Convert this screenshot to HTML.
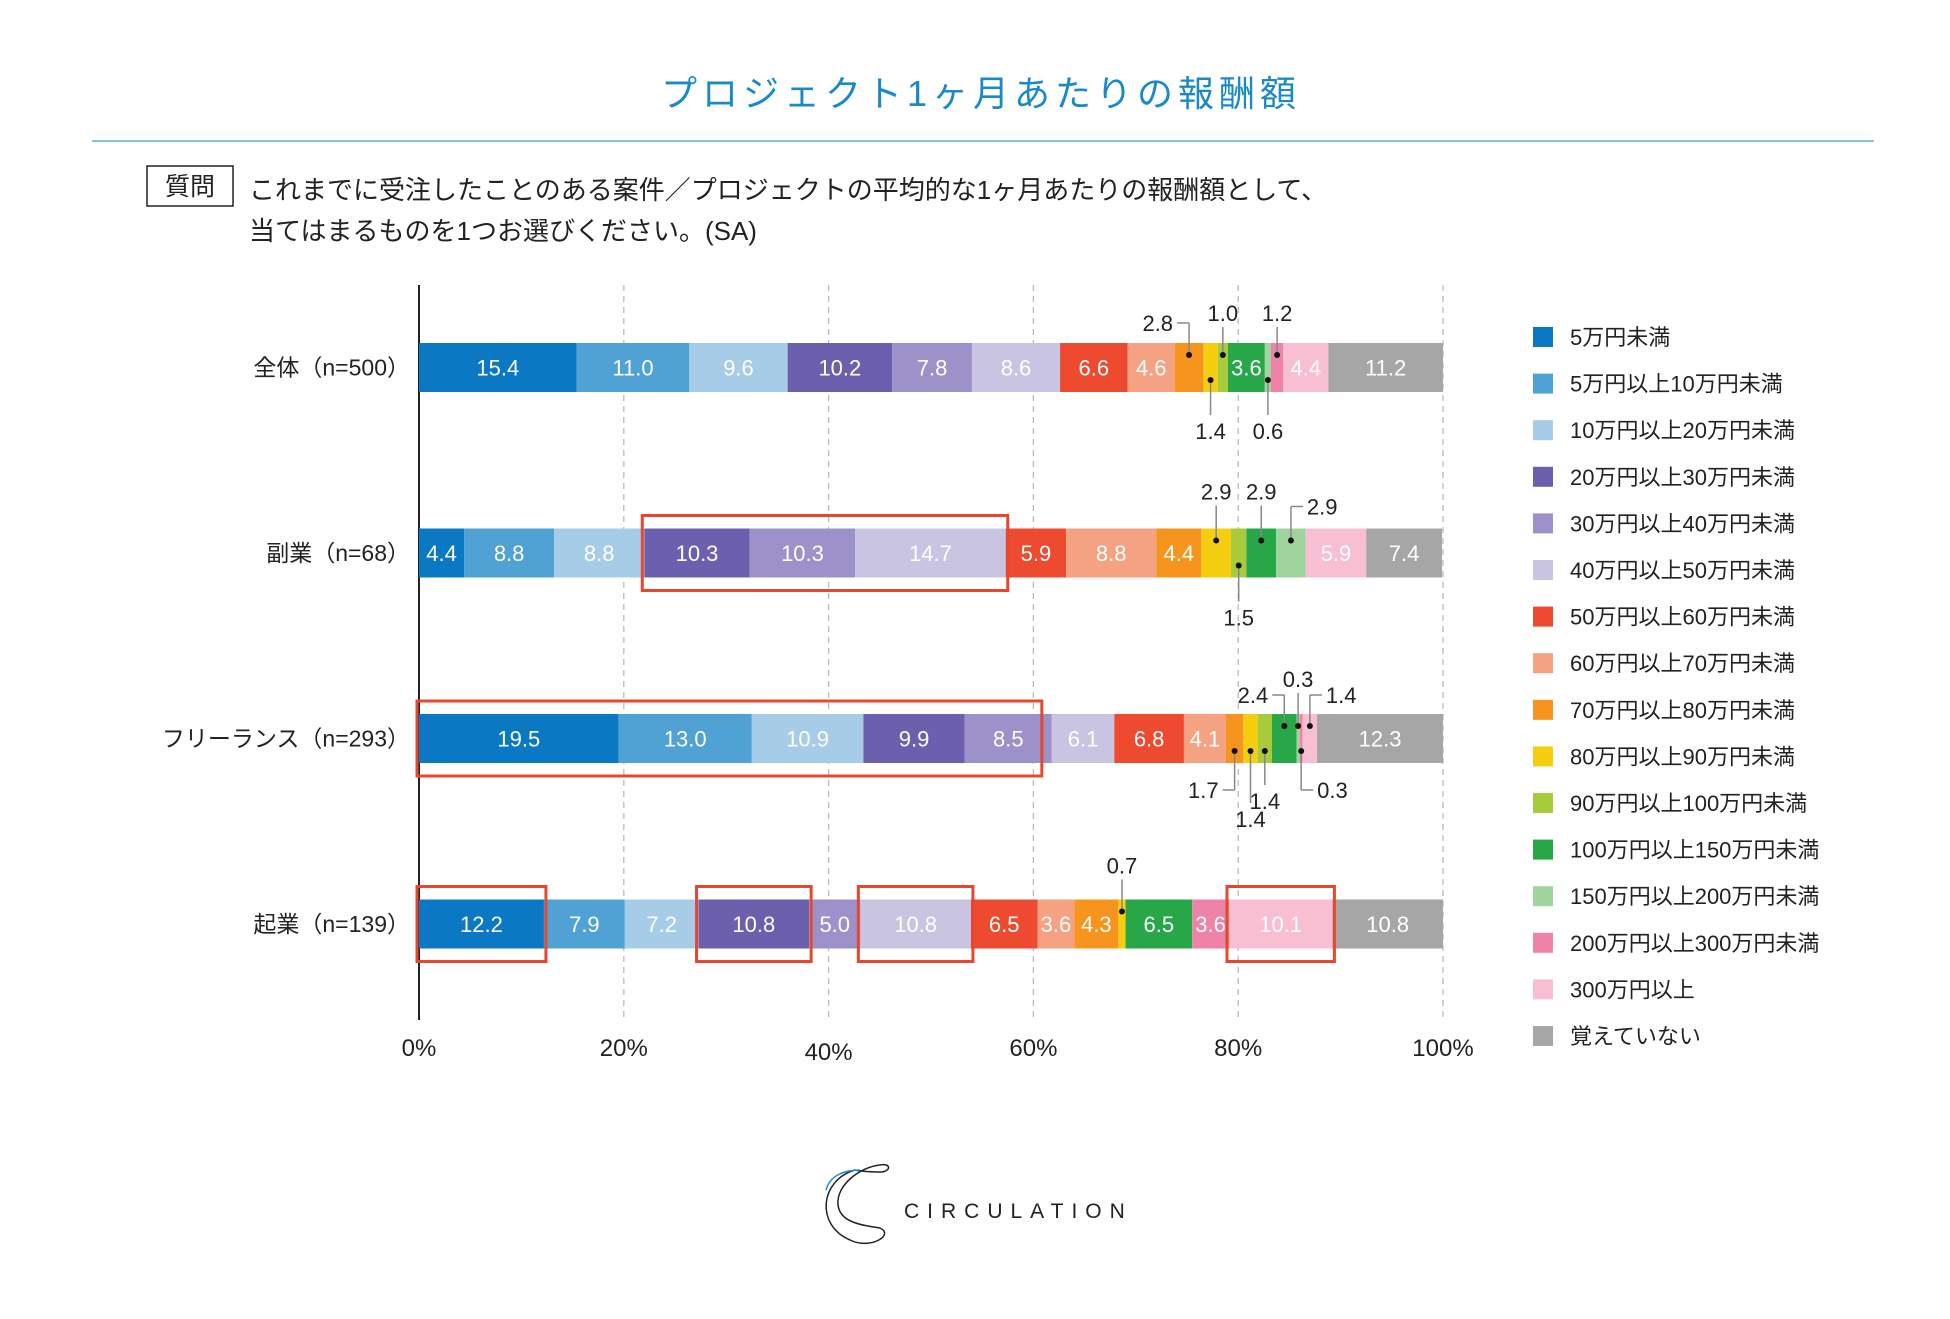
<!DOCTYPE html>
<html><head><meta charset="utf-8">
<style>
body{margin:0;background:#fff;}
svg text{font-family:"Liberation Sans","Noto Sans CJK JP",sans-serif;}
</style></head>
<body>
<svg id="chart" width="1950" height="1314" xmlns="http://www.w3.org/2000/svg">
<text x="981" y="106" text-anchor="middle" font-size="36" fill="#1a8ac6" letter-spacing="5">プロジェクト1ヶ月あたりの報酬額</text>
<line x1="92" y1="141" x2="1874" y2="141" stroke="#5bb0d8" stroke-width="1.5"/>
<rect x="147" y="166" width="86" height="40" fill="none" stroke="#222" stroke-width="1.5"/>
<text x="190" y="195" text-anchor="middle" font-size="25" fill="#222">質問</text>
<text x="249" y="199" font-size="26" fill="#222">これまでに受注したことのある案件／プロジェクトの平均的な1ヶ月あたりの報酬額として、</text>
<text x="249" y="240" font-size="26" fill="#222">当てはまるものを1つお選びください。(SA)</text>
<g id="plot"></g>
<g id="legend"></g>
<g>
<path d="M855 1170 C 820 1180, 815 1225, 850 1240 C 870 1250, 895 1235, 880 1228 C 860 1225, 840 1222, 838 1205 C 836 1185, 860 1167, 880 1165 C 890 1163, 892 1170, 882 1172 C 870 1172, 860 1171, 855 1170" fill="none" stroke="#222" stroke-width="1.5"/>
<path d="M826 1190 C 830 1175, 845 1170, 860 1170" fill="none" stroke="#1a8ac6" stroke-width="1.5"/>
<text x="904" y="1218" font-size="21" fill="#222" letter-spacing="8">CIRCULATION</text>
</g>
</svg>
<script>
const categories = ["全体（n=500）","副業（n=68）","フリーランス（n=293）","起業（n=139）"];
const seriesNames = ["5万円未満","5万円以上10万円未満","10万円以上20万円未満","20万円以上30万円未満","30万円以上40万円未満","40万円以上50万円未満","50万円以上60万円未満","60万円以上70万円未満","70万円以上80万円未満","80万円以上90万円未満","90万円以上100万円未満","100万円以上150万円未満","150万円以上200万円未満","200万円以上300万円未満","300万円以上","覚えていない"];
const row0 = [15.4,11.0,9.6,10.2,7.8,8.6,6.6,4.6,2.8,1.4,1.0,3.6,0.6,1.2,4.4,11.2];
const row1 = [4.4,8.8,8.8,10.3,10.3,14.7,5.9,8.8,4.4,2.9,1.5,2.9,2.9,0,5.9,7.4];
const row2 = [19.5,13.0,10.9,9.9,8.5,6.1,6.8,4.1,1.7,1.4,1.4,2.4,0.3,0.3,1.4,12.3];
const row3 = [12.2,7.9,7.2,10.8,5.0,10.8,6.5,3.6,4.3,0.7,0,6.5,0,3.6,10.1,10.8];
const values = [row0,row1,row2,row3];
const ticks = [0,20,40,60,80,100];
const callouts = [[0,8,'u','l',20],[0,10,'u','c',30],[0,13,'u','c',30],[0,9,'d','c',37],[0,12,'d','c',37],
 [1,9,'u','c',37],[1,11,'u','c',37],[1,12,'u','r',22],[1,10,'d','c',38],
 [2,11,'u','l',19],[2,12,'u','c',35],[2,14,'u','r',19],[2,8,'d','l',27],[2,9,'d','c',54],[2,10,'d','c',36],[2,13,'d','r',27],
 [3,9,'u','c',34]];
// highlights: row, first seg, last seg, right trim px
const highlights = [[1,3,5,0],[2,0,4,12],[3,0,0,0],[3,3,3,0],[3,5,5,0],[3,14,14,0]];
const colors=["#0a78c2","#4fa2d3","#a7cce8","#6c5fad","#9d91c9","#c9c4e2","#ee4a2f","#f5a283","#f7941e","#f5cf0f","#a7cb3b","#27a748","#9fd49f","#ee83a7","#f7bfd1","#a6a6a6"];
const NS="http://www.w3.org/2000/svg";
const X0=419, W=1024, BH=49;
const xs=v=>X0+v/100*W;
const ys=i=>343+i*185.5;
const plot=document.getElementById('plot');
function mk(tag,attrs,parent){const e=document.createElementNS(NS,tag);for(const k in attrs)e.setAttribute(k,attrs[k]);(parent||plot).appendChild(e);return e;}
ticks.forEach(t=>{
  if(t>0){const l=mk('line',{x1:xs(t),x2:xs(t),y1:285,y2:1020,stroke:'#bbb','stroke-width':1.3,'stroke-dasharray':'6,5'});
  
  }
  const tx=mk('text',{x:xs(t),y:t==40?1060:1056,'text-anchor':'middle','font-size':24,fill:'#222'});tx.textContent=t+'%';
  
  
});
const ax=mk('line',{x1:X0,x2:X0,y1:285,y2:1020,stroke:'#222','stroke-width':2});


const starts=[];
values.forEach((row,i)=>{
  const y=ys(i);let c=0;starts.push([]);
  const lb=mk('text',{x:410,y:y+BH/2+8,'text-anchor':'end','font-size':23,fill:'#222'});lb.textContent=categories[i];
  
  
  const callSet=callouts.filter(q=>q[0]===i).map(q=>q[1]);
  row.forEach((v,j)=>{
    starts[i].push(c);
    if(v>0){
      const r=mk('rect',{x:xs(c),y:y,width:xs(c+v)-xs(c),height:BH,fill:colors[j]});
      
      
      if(v>=3.5&&callSet.indexOf(j)<0){
        const t=mk('text',{x:(xs(c)+xs(c+v))/2,y:y+BH/2+8,'text-anchor':'middle','font-size':22,fill:'#fff'});t.textContent=v.toFixed(1);
        
        
      }
    }
    c+=v;
  });
});
highlights.forEach(h=>{
  const a=starts[h[0]][h[1]], b=starts[h[0]][h[2]]+values[h[0]][h[2]], y=ys(h[0]);
  const r=mk('rect',{x:xs(a)-2,y:y-13,width:xs(b)-xs(a)+4-h[3],height:BH+26,fill:'none',stroke:'#e8472f','stroke-width':3});
  
  
});
callouts.forEach(q=>{
  const [i,j,dir,kind,d]=q;const v=values[i][j];
  const cx=(xs(starts[i][j])+xs(starts[i][j]+v))/2, y=ys(i);
  const dy=dir==='u'?y+12:y+BH-12;
  const ey=dir==='u'?y-d+(kind==='c'?14:0):y+BH+d-(kind==='c'?14:0);
  const g=mk('g',{});
  
  
  mk('line',{x1:cx,x2:cx,y1:dy,y2:ey,stroke:'#888','stroke-width':1.5},g);
  let tx,anchor;
  if(kind==='c'){tx=cx;anchor='middle';}
  else{const ex=kind==='l'?cx-12:cx+12;mk('line',{x1:cx,x2:ex,y1:ey,y2:ey,stroke:'#888','stroke-width':1.5},g);tx=kind==='l'?ex-4:ex+4;anchor=kind==='l'?'end':'start';}
  mk('circle',{cx:cx,cy:dy,r:3,fill:'#111'},g);
  const ty=kind==='c'?(dir==='u'?ey-6:ey+24):ey+8;
  const t=mk('text',{x:tx,y:ty,'text-anchor':anchor,'font-size':22,fill:'#222'},g);t.textContent=v.toFixed(1);
});
const lg=document.getElementById('legend');
seriesNames.forEach((n,k)=>{
  const y=337+k*46.6;
  const g=mk('g',{},lg);
  
  
  mk('rect',{x:1533,y:y-10,width:20,height:20,fill:colors[k]},g);
  const t=mk('text',{x:1570,y:y+8,'font-size':22,fill:'#222'},g);t.textContent=n;
});
</script>
</body></html>
